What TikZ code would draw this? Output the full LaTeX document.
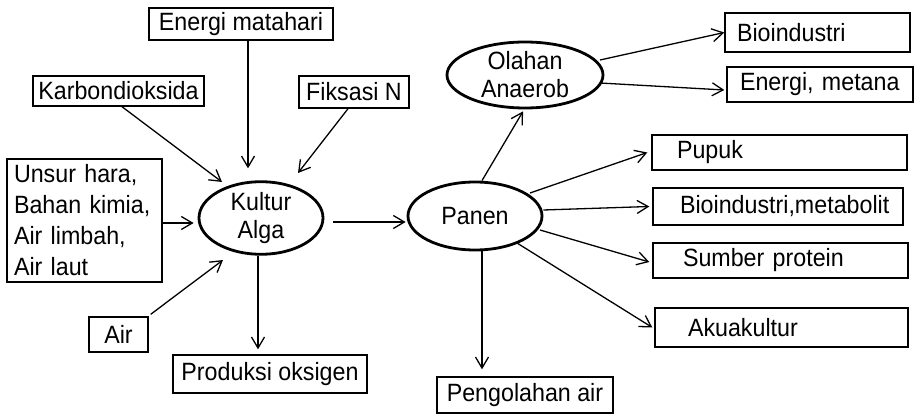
\documentclass[tikz,border=0pt]{standalone}
\usepackage{fontspec}
\setmainfont[FakeStretch=0.93]{Liberation Sans}
\usetikzlibrary{arrows.meta,calc,shapes.geometric}
\tikzset{
  box/.style={draw, line width=1.4pt, inner ysep=0pt, font=\fontsize{25}{31}\selectfont},
  rbox/.style={box, inner xsep=0pt, text width=#1, align=left},
  oval/.style={draw, ellipse, line width=2.8pt, inner sep=0pt, align=center, font=\fontsize{25}{28}\selectfont},
  arr/.style={line width=1.3pt, -{Straight Barb[length=11pt,width=13pt,line width=1.3pt]}},
}
\begin{document}
\begin{tikzpicture}[x=1pt,y=-1pt]
\useasboundingbox (0,0) rectangle (924,417);
% left inputs
\node[box, minimum width=184, minimum height=32] (energi) at (241,24) {Energi matahari};
\node[box, minimum width=171, minimum height=30] (karbon) at (118.5,91) {Karbondioksida};
\node[box, minimum width=110, minimum height=32] (fiksasi) at (354,92) {Fiksasi N};
\node[rbox=155, minimum height=123] (unsur) at (84.5,220.5) {\hspace*{7pt}Unsur hara,\\\hspace*{7pt}Bahan kimia,\\\hspace*{7pt}Air limbah,\\\hspace*{7pt}Air laut};
\node[box, minimum width=59, minimum height=35] (air) at (118.5,334.5) {Air};
\node[box, minimum width=194, minimum height=38] (produksi) at (270,374) {Produksi oksigen};
\node[box, minimum width=176, minimum height=36] (pengolahan) at (525,395) {Pengolahan air};
% right outputs
\node[rbox=185, minimum height=39] (bioind) at (817.5,32.5) {\hspace*{12pt}Bioindustri};
\node[rbox=186, minimum height=35] (metana) at (820,84.5) {\hspace*{13pt}Energi,~metana};
\node[rbox=255, minimum height=35] (pupuk) at (779.5,152.5) {\hspace*{25pt}Pupuk};
\node[rbox=250, minimum height=37] (biomet) at (778,206.5) {\hspace*{27pt}Bioindustri,metabolit};
\node[rbox=255, minimum height=35] (sumber) at (780.5,260.5) {\hspace*{30pt}Sumber protein};
\node[rbox=253, minimum height=39] (akua) at (781.5,327.5) {\hspace*{33pt}Akuakultur};
% ellipses
\node[oval, minimum width=124, minimum height=68] (kultur) at (261,218) {Kultur\\Alga};
\node[oval, minimum width=134, minimum height=68] (panen) at (475,216) {Panen};
\node[oval, minimum width=156, minimum height=66] (olahan) at (525,75) {Olahan\\Anaerob};
% connectors
\draw[arr] ($(energi.south)+(7,0)$) -- ($(kultur.north)+(-13,-12)$);
\draw[arr] ($(karbon.south)+(3.5,0)$) -- ($(kultur.center)+(-39,-36)$);
\draw[arr] ($(fiksasi.south)+(-6,0)$) -- ($(kultur.center)+(37,-45)$);
\draw[arr] ($(unsur.east)+(0,2.5)$) -- ($(kultur.west)+(-4,5)$);
\draw[arr] ($(air.north east)+(2,-2)$) -- ($(kultur.center)+(-38,42)$);
\draw[arr] ($(kultur.south)+(-3,0)$) -- ($(produksi.north)+(-12,-5)$);
\draw[arr] ($(kultur.east)+(9,4)$) -- ($(panen.west)+(-1,6)$);
\draw[arr] ($(panen.north)+(7,0)$) -- ($(olahan.south)+(-2,2)$);
\draw[arr] ($(olahan.center)+(75,-15)$) -- (bioind.west);
\draw[arr] ($(olahan.center)+(75,8)$) -- ($(metana.west)+(-2,5.5)$);
\draw[arr] ($(panen.center)+(55,-23)$) -- ($(pupuk.west)+(-4,0)$);
\draw[arr] ($(panen.east)+(0,-6)$) -- ($(biomet.west)+(-3,0)$);
\draw[arr] ($(panen.center)+(65,14)$) -- ($(sumber.west)+(-3,1.5)$);
\draw[arr] ($(panen.center)+(42,27)$) -- ($(akua.west)+(-2,0)$);
\draw[arr] ($(panen.south)+(7,0)$) -- ($(pengolahan.north)+(-43,-7)$);
\end{tikzpicture}
\end{document}
